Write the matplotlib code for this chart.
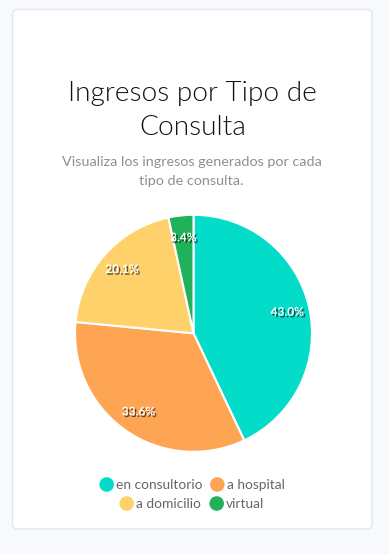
import matplotlib
matplotlib.use("Agg")
import matplotlib.pyplot as plt
import matplotlib.patheffects as pe
from matplotlib.patches import FancyBboxPatch
import numpy as np

categories = ["en consultorio", "a hospital", "a domicilio", "virtual"]
values = [43.0, 33.6, 20.1, 3.4]
colors = ["#02DCC8", "#FEA553", "#FED16A", "#20B15A"]
title_lines = ["Ingresos por Tipo de", "Consulta"]
subtitle_lines = ["Visualiza los ingresos generados por cada", "tipo de consulta."]

W, H = 389, 554
DPI = 100
fig = plt.figure(figsize=(W / DPI, H / DPI), dpi=DPI, facecolor="#F8F9FC")

# overlay axes in pixel coordinates
bg = fig.add_axes([0, 0, 1, 1])
bg.set_xlim(0, W)
bg.set_ylim(H, 0)
bg.axis("off")
bg.patch.set_alpha(0)

card = FancyBboxPatch((12.5, 9.5), 359.5, 519.5, boxstyle="round,pad=0,rounding_size=5",
                      facecolor="white", edgecolor="#E3E6F0", linewidth=1.0)
bg.add_patch(card)

bg.text(192.5, 101.5, title_lines[0], ha="center", va="baseline", fontsize=20.2,
        family="Lato", weight=300, color="#111111")
bg.text(192.5, 135, title_lines[1], ha="center", va="baseline", fontsize=20.2,
        family="Lato", weight=300, color="#111111")
bg.text(191.5, 166.5, subtitle_lines[0], ha="center", va="baseline", fontsize=10.4,
        family="Lato", color="#8E8E96")
bg.text(191.5, 185, subtitle_lines[1], ha="center", va="baseline", fontsize=10.4,
        family="Lato", color="#8E8E96")

# legend (manual, centered rows like chart.js)
leg_pos = [(106.7, 484.5), (217.3, 484.5), (126.7, 503.5), (216.7, 503.5)]
for (x, y), lab, col in zip(leg_pos, categories, colors):
    bg.scatter([x], [y], s=110, color=col, edgecolors="none", zorder=3)
    bg.text(x + 9.5, y + 0.5, lab, ha="left", va="center", fontsize=9.9,
            family="Lato", color="#666666")

# pie
cx, cy, r = 193.5, 333.3, 118.5
ax = fig.add_axes([(cx - r) / W, (H - cy - r) / H, 2 * r / W, 2 * r / H])
wedges, _ = ax.pie(values, colors=colors, startangle=90, counterclock=False,
                   radius=1.0, wedgeprops=dict(edgecolor="white", linewidth=1.5))
ax.set_xlim(-1, 1)
ax.set_ylim(-1, 1)
ax.set_aspect("auto")
ax.axis("off")

total = sum(values)
ang = 90.0
for v in values:
    span = 360.0 * v / total
    mid = np.deg2rad(ang - span / 2)
    ang -= span
    rr = 0.81
    ax.text(rr * np.cos(mid), rr * np.sin(mid), f"{v:.1f}%", ha="center", va="center",
            fontsize=8.6, weight="bold", color="white", family="Lato",
            path_effects=[pe.SimplePatchShadow(offset=(1.2, -1.2), shadow_rgbFace="black", alpha=0.6),
                          pe.Normal()])

fig.savefig("out.png", dpi=DPI, facecolor=fig.get_facecolor())
